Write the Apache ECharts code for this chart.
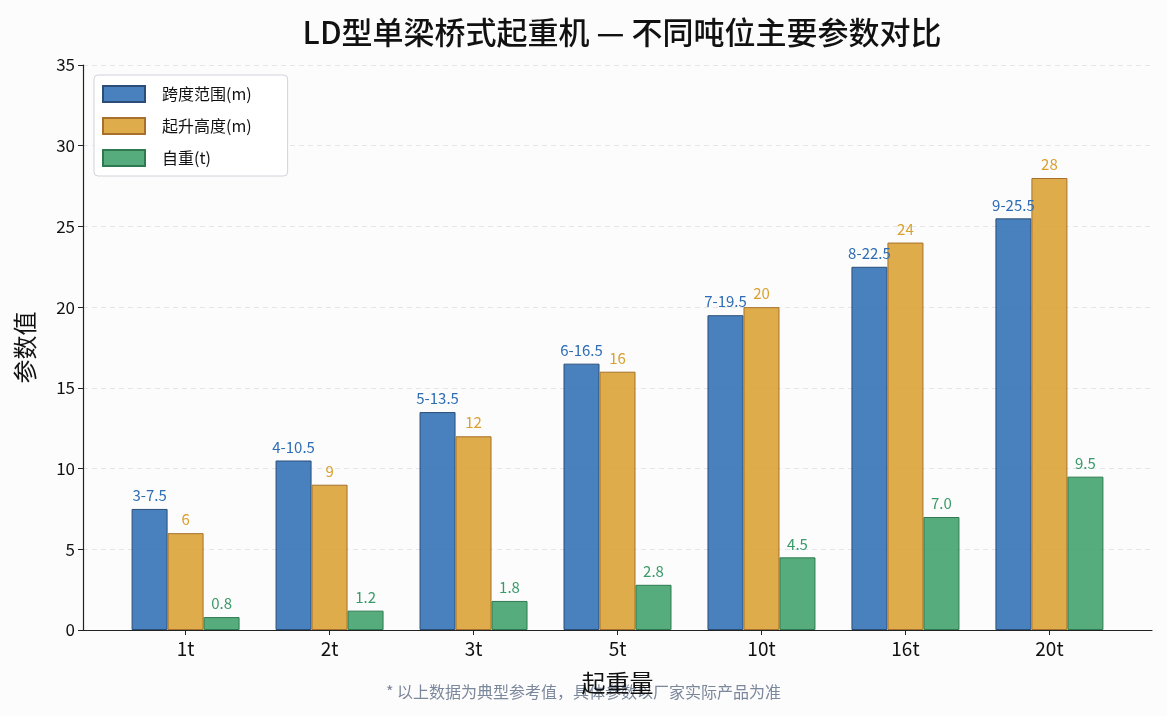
<!DOCTYPE html>
<html>
<head>
<meta charset="utf-8">
<script src="https://cdn.jsdelivr.net/npm/echarts@6/dist/echarts.min.js"></script>
<style>
  html, body { margin: 0; padding: 0; background: #fcfcfd; }
  #chart { width: 1167px; height: 716px; }
</style>
</head>
<body>
<div id="chart"></div>
<script>
// categories and values
const categories = ['1t', '2t', '3t', '5t', '10t', '16t', '20t'];
const spanMax = [7.5, 10.5, 13.5, 16.5, 19.5, 22.5, 25.5];
const spanLabels = ['3-7.5', '4-10.5', '5-13.5', '6-16.5', '7-19.5', '8-22.5', '9-25.5'];
const liftHeight = [6, 9, 12, 16, 20, 24, 28];
const selfWeight = [0.8, 1.2, 1.8, 2.8, 4.5, 7.0, 9.5];
const yTicks = { min: 0, max: 35, interval: 5 };

const FONT = '"Noto Sans CJK SC", "DejaVu Sans", sans-serif';
const BAR = 0.25;           // bar width in category units
const catIdx = categories.map((c, i) => i);
// x range padded like the original (5% around the outermost bars)
const span = (categories.length - 1) + 3 * BAR;
const xMin = -1.5 * BAR - span * 0.05;
const xMax = (categories.length - 1) + 1.5 * BAR + span * 0.05;

const chart = echarts.init(document.getElementById('chart'));

// place each series at its own offset inside a category
function barSeries(name, values, k, fill, edge, labelColor, fmt) {
  return {
    name,
    type: 'bar',
    data: values.map((v, i) => [i + (k - 1) * BAR, v]),
    barWidth: 36,
    barGap: '-100%',
    itemStyle: { color: fill, borderColor: edge, borderWidth: 1 },
    label: {
      show: true,
      position: 'top',
      distance: 6,
      color: labelColor,
      fontSize: 15,
      fontFamily: FONT,
      formatter: fmt
    }
  };
}

const option = {
  backgroundColor: '#fcfcfd',
  animation: false,
  title: {
    text: 'LD型单梁桥式起重机 — 不同吨位主要参数对比',
    left: 617,
    textAlign: 'center',
    top: 12,
    textStyle: { fontFamily: FONT, fontSize: 31, fontWeight: 500, color: '#111' }
  },
  legend: {
    left: 94,
    top: 75,
    orient: 'vertical',
    itemWidth: 42,
    itemHeight: 16,
    itemGap: 14,
    padding: [10, 36, 9, 8],
    backgroundColor: '#ffffff',
    borderColor: '#cfd3da',
    borderWidth: 1,
    borderRadius: 4,
    icon: 'rect',
    textStyle: { fontFamily: FONT, fontSize: 16, lineHeight: 16, color: '#111', padding: [0, 0, 0, 12] }
  },
  grid: { left: 83, right: 15, top: 65, bottom: 86 },
  xAxis: {
    type: 'value',
    min: xMin,
    max: xMax,
    name: '起重量',
    nameLocation: 'middle',
    nameGap: 41,
    nameTextStyle: { fontFamily: FONT, fontSize: 24, color: '#111' },
    axisLine: { show: true, onZero: false, lineStyle: { color: '#222', width: 1.2 } },
    axisTick: { show: true, customValues: catIdx, length: 5, lineStyle: { color: '#222' } },
    axisLabel: {
      customValues: catIdx,
      formatter: v => categories[Math.round(v)],
      fontFamily: FONT, fontSize: 19, color: '#111', margin: 9
    },
    splitLine: { show: false }
  },
  yAxis: {
    type: 'value',
    min: yTicks.min,
    max: yTicks.max,
    interval: yTicks.interval,
    name: '参数值',
    nameLocation: 'middle',
    nameGap: 46,
    nameTextStyle: { fontFamily: FONT, fontSize: 24, color: '#111' },
    axisLine: { show: true, onZero: false, lineStyle: { color: '#222', width: 1.2 } },
    axisTick: { show: true, length: 5, lineStyle: { color: '#222' } },
    axisLabel: { fontFamily: FONT, fontSize: 17, color: '#111', margin: 8 },
    splitLine: { lineStyle: { color: '#e3e5e8', type: [5, 4] } }
  },
  series: [
    barSeries('跨度范围(m)', spanMax, 0, 'rgba(46,109,180,0.87)', '#2b4e78', '#2e6db4',
      p => spanLabels[p.dataIndex]),
    barSeries('起升高度(m)', liftHeight, 1, 'rgba(217,160,48,0.87)', '#a8702a', '#d9a030',
      p => String(p.value[1])),
    barSeries('自重(t)', selfWeight, 2, 'rgba(61,160,104,0.87)', '#2f7a50', '#3a9a68',
      p => p.value[1].toFixed(1))
  ],
  graphic: [{
    type: 'text',
    left: 'center',
    top: 684,
    style: {
      text: '* 以上数据为典型参考值，具体参数以厂家实际产品为准',
      fontFamily: FONT,
      fontSize: 16,
      fill: '#7b879a'
    }
  }]
};

chart.setOption(option);
</script>
</body>
</html>
